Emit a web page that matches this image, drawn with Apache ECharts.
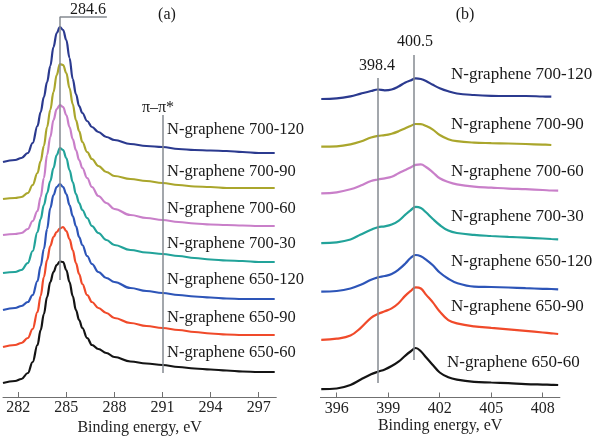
<!DOCTYPE html>
<html>
<head>
<meta charset="utf-8">
<script src="https://cdn.jsdelivr.net/npm/echarts@6/dist/echarts.min.js"></script>
<style>
html,body{margin:0;padding:0;background:#fff;}
#chart{width:593px;height:436px;}
</style>
</head>
<body>
<div id="chart"></div>
<script>
// ---- Data ----
const seriesNames = ['N-graphene 700-120','N-graphene 700-90','N-graphene 700-60','N-graphene 700-30','N-graphene 650-120','N-graphene 650-90','N-graphene 650-60'];
const seriesColors = ['#2b3a8f','#aaa62c','#c97fc9','#22a39a','#2d55b8','#f04a2a','#141414'];

// (a) C1s binding energies (eV)
const energyC1s = [281.05,281.8,282.2,282.6,282.9,283.2,283.4,283.6,283.8,284.0,284.2,284.4,284.6,284.8,285.0,285.2,285.4,285.6,285.8,286.0,286.3,286.6,287.0,287.5,288.0,289.0,290.0,291.0,292.0,293.0,294.0,295.0,296.0,297.0,298.0];
// stacked intensities (a.u., offset included)
const c1s_700_120 = [235,237,239,244,254,271,285,300,315,331,350,364,370,367,357,339,318,303,291,284,276,270,265,260,257,253,251,250,248,247,246.5,246,245,244,244];
const c1s_700_90  = [198,199,200,204,212,224,236,251,270,287,305,322,333,332,324,309,293,277,266,255,245,238,231,225,221,218,216,214,212,210.5,210,209,209,209,209];
const c1s_700_60  = [162,163,164,168,176,186,200,219,242,260,277,288,292,290,282,270,258,247,237,229,219,210,201,194,188,182,179,177,175,173.5,172.5,172,171.5,171,171];
const c1s_700_30  = [124,125,127,134,146,165,178,192,204,216,229,242,249,247,239,227,215,203,194,187,179,171,164,157,152,147,144.5,143,141,139,137.5,136.5,136,135,135];
const c1s_650_120 = [87,89,91,95,102,116,131,148,168,189,202,210,213,210,203,192,181,171,160,152,141,133,125,119,115,109,106,104,102,100.5,99.5,98.5,98,98,98];
const c1s_650_90  = [50,52,54,59,68,85,101,120,137,151,160,165,168.5,170,166,158,147,134,123,113,102,95,89,84,79,74,71,69,67,65,63.5,62.5,62,62,62];
const c1s_650_60  = [14,16,18,24,35,52,67,83,100,115,125,132,135.5,135,127,115,101,87,77,69,59,52,48,44,40,35.5,33.5,32,30,28.5,27.5,26.5,25.5,25,25];

// (b) N1s binding energies (eV)
const energyN1s = [395.1,396.0,396.8,397.4,398.0,398.4,398.8,399.2,399.6,400.0,400.3,400.6,400.9,401.2,401.6,402.0,402.5,403.0,404.0,405.0,406.0,407.0,408.0,408.5,408.9];
const n1s_700_120 = [298.5,299.1,301.2,303.9,306.5,308,307.2,308,311,315,317,319.2,318.5,316.5,312.7,309.3,306.2,304,302.5,301.7,301.5,301.5,301,300.8,null];
const n1s_700_90  = [250.8,251.2,253.2,256,260,261.7,262.3,263.8,266.2,269.2,271.5,273.5,273.3,271.5,267.9,262.5,258.3,256.3,254.9,254.4,254,253.5,252.9,252.5,null];
const n1s_700_60  = [204.1,205.2,208.2,212,216.5,218,219.2,220.7,224.2,227.5,230,232.6,233.1,230.5,225.2,219.2,215.5,213.2,210.9,209.9,208.9,208.3,207.5,207,206.8];
const n1s_700_30  = [154.3,155.2,158,163,167.7,170.3,171.2,173,176.7,182.9,187.2,190.6,189.5,185.2,178.5,172.5,166.9,164.5,162.6,161.5,160.6,159.9,159,158.5,158.2];
const n1s_650_120 = [105.8,106.5,109,112.7,117.7,120.1,121.5,123.5,127.9,134,139.5,142.5,141.2,137.9,132.2,125,118.8,114.5,110.9,110.5,110,109.3,108.7,108.5,108.2];
const n1s_650_90  = [57.6,58.8,62,69.7,79.7,83.5,86.2,89.1,94.3,101.9,106.3,110.1,109,102.9,95.1,86,77.4,74.1,71.1,69.6,68.2,66.6,65,64.2,63.5];
const n1s_650_60  = [8.3,9,12.5,18,23.2,25.8,28.1,31.5,35.9,41.9,46,49.5,46.3,40.2,32.5,25,20.2,17.9,15.7,15,14.3,13.4,12.9,12.7,12.5];

const ticksC1s = [282,285,288,291,294,297];
const ticksN1s = [396,399,402,405,408];

const peakC = 284.6, piPeak = 291, peakN1 = 398.4, peakN2 = 400.5;

// ---- Chart ----
const FONT = "'Liberation Serif','Times New Roman',serif";
const c1sSets = [c1s_700_120,c1s_700_90,c1s_700_60,c1s_700_30,c1s_650_120,c1s_650_90,c1s_650_60];
const n1sSets = [n1s_700_120,n1s_700_90,n1s_700_60,n1s_700_30,n1s_650_120,n1s_650_90,n1s_650_60];
const zip = (xs, ys) => xs.map((x,i)=>[x, ys[i]]);

const chart = echarts.init(document.getElementById('chart'), null, {renderer:'canvas'});

function xAxisCfg(gi, min, max, ticks, gap){
  return {
    type:'value', gridIndex:gi, min:min, max:max,
    name:'Binding energy, eV', nameLocation:'middle', nameGap:gap, nameMoveOverlap:false,
    nameTextStyle:{fontFamily:FONT, fontSize:16, color:'#222'},
    axisLine:{show:true, lineStyle:{color:'#707070', width:1}},
    axisTick:{show:true, inside:true, length:5, customValues:ticks, lineStyle:{color:'#707070'}},
    axisLabel:{show:true, customValues:ticks, margin:3, fontFamily:FONT, fontSize:16, color:'#222'},
    splitLine:{show:false}
  };
}
const grayLine = {color:'#858a90', width:1.5, type:'solid'};

const series = [];
c1sSets.forEach((d,i)=>{
  series.push({
    type:'line', xAxisIndex:0, yAxisIndex:0, name:seriesNames[i]+' (a)',
    data:zip(energyC1s,d), showSymbol:false, smooth:0.4, smoothMonotone:'x',
    lineStyle:{color:seriesColors[i], width:2.2}, itemStyle:{color:seriesColors[i]}, z:3
  });
});
n1sSets.forEach((d,i)=>{
  series.push({
    type:'line', xAxisIndex:1, yAxisIndex:1, name:seriesNames[i]+' (b)',
    data:zip(energyN1s,d), showSymbol:false, smooth:0.4, connectNulls:false,
    lineStyle:{color:seriesColors[i], width:2.2}, itemStyle:{color:seriesColors[i]}, z:3
  });
});
// annotation lines
series.push({
  type:'line', xAxisIndex:0, yAxisIndex:0, data:[], silent:true,
  markLine:{symbol:'none', silent:true, label:{show:false}, lineStyle:grayLine, animation:false,
    data:[
      [{coord:[peakC,380.3]},{coord:[peakC,117]}],
      [{coord:[peakC,380.3]},{coord:[287.53,380.3]}],
      [{coord:[piPeak,282]},{coord:[piPeak,24]}]
    ]}
});
series.push({
  type:'line', xAxisIndex:1, yAxisIndex:1, data:[], silent:true,
  markLine:{symbol:'none', silent:true, label:{show:false}, lineStyle:grayLine, animation:false,
    data:[
      [{coord:[peakN1,319.5]},{coord:[peakN1,14.5]}],
      [{coord:[peakN2,342.5]},{coord:[peakN2,37.5]}]
    ]}
});

const txt = (x,y,s,align,size)=>({type:'text', x:x, y:y, silent:true, z:10,
  style:{text:s, fill:'#1a1a1a', font:(size||16)+'px '+FONT, textAlign:align||'center', textVerticalAlign:'middle'}});

const labelYa = [130,172,209,244,280,318,353];
const labelYb = [75,125,172,217,262,307,363];
const labelXb = [451,451,451,451,451,451,447];
const graphics = [
  txt(88,10,String(peakC)), txt(167,15,'(a)'), txt(158,108,'π–π*'),
  txt(465,15,'(b)'), txt(377,66,String(peakN1)), txt(415,42,String(peakN2))
];
seriesNames.forEach((n,i)=>{
  graphics.push(txt(167,labelYa[i],n,'left',16.5));
  graphics.push(txt(labelXb[i],labelYb[i],n,'left',17));
});

chart.setOption({
  animation:false,
  backgroundColor:'#ffffff',
  grid:[
    {left:3, top:0, width:273.3, height:397, outerBoundsMode:'none', containLabel:false},
    {left:320.4, top:0, width:239.5, height:397.5, outerBoundsMode:'none', containLabel:false}
  ],
  xAxis:[ xAxisCfg(0,281.05,298.1,ticksC1s,23), xAxisCfg(1,395.05,409.0,ticksN1s,20) ],
  yAxis:[
    {type:'value', gridIndex:0, min:0, max:397, show:false},
    {type:'value', gridIndex:1, min:0, max:397.5, show:false}
  ],
  series:series,
  graphic:graphics
});
</script>
</body>
</html>
